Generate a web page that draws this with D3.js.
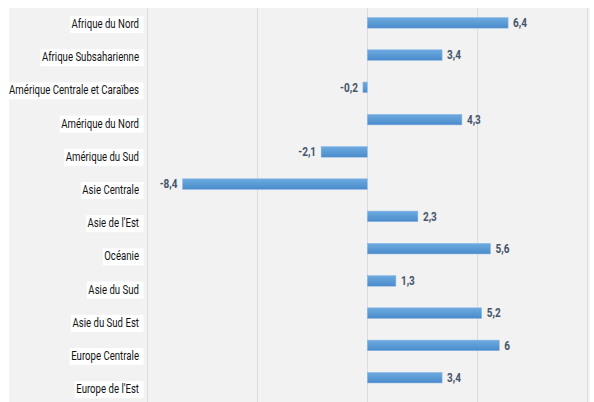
<!DOCTYPE html>
<html>
<head>
<meta charset="utf-8">
<script src="https://cdn.jsdelivr.net/npm/d3@7"></script>
<style>
  html, body { margin: 0; padding: 0; background: #ffffff; }
  svg { display: block; }
</style>
</head>
<body>
<svg id="chart" width="594" height="402"></svg>
<script>
// Régions du monde
const regions = [
  "Afrique du Nord",
  "Afrique Subsaharienne",
  "Amérique Centrale et Caraïbes",
  "Amérique du Nord",
  "Amérique du Sud",
  "Asie Centrale",
  "Asie de l'Est",
  "Océanie",
  "Asie du Sud",
  "Asie du Sud Est",
  "Europe Centrale",
  "Europe de l'Est"
];

// Variation par région
const values = [6.4, 3.4, -0.2, 4.3, -2.1, -8.4, 2.3, 5.6, 1.3, 5.2, 6, 3.4];

// Graduations verticales de la grille
const gridTicks = [-10, -5, 0, 5, 10];

const svg = d3.select("#chart");
const W = 594, H = 402;

// Fond gris du graphique
svg.append("rect")
  .attr("x", 9).attr("y", 8)
  .attr("width", 581).attr("height", H - 8)
  .attr("fill", "#f2f2f2");

const x = d3.scaleLinear().domain([-10, 10]).range([147.3, 587.3]);

const y = d3.scaleBand()
  .domain(regions)
  .range([6.7, 393.8])
  .paddingInner(0.67)
  .paddingOuter(0.335);

// Position verticale des libellés de catégories
const yLabel = d3.scalePoint()
  .domain(regions)
  .range([24.5, 389.7]);

const defs = svg.append("defs");
const grad = defs.append("linearGradient")
  .attr("id", "barGrad")
  .attr("x1", 0).attr("y1", 0).attr("x2", 0).attr("y2", 1);
grad.append("stop").attr("offset", "0%").attr("stop-color", "#6eaae0");
grad.append("stop").attr("offset", "50%").attr("stop-color", "#5b9bd5");
grad.append("stop").attr("offset", "100%").attr("stop-color", "#4a8acb");

// Grille
svg.append("g")
  .selectAll("line")
  .data(gridTicks)
  .join("line")
  .attr("x1", d => Math.round(x(d)) + 0.5)
  .attr("x2", d => Math.round(x(d)) + 0.5)
  .attr("y1", 8).attr("y2", H)
  .attr("stroke", "#dcdcdc")
  .attr("stroke-width", 1);

// Barres
svg.append("g")
  .selectAll("rect")
  .data(values)
  .join("rect")
  .attr("x", d => x(Math.min(0, d)))
  .attr("width", d => Math.abs(x(d) - x(0)))
  .attr("y", (d, i) => y(regions[i]))
  .attr("height", y.bandwidth())
  .attr("fill", "url(#barGrad)")
  .attr("stroke", "#8fbbe6")
  .attr("stroke-width", 0.5);

// Format décimal à la française, signe moins simple
const fr = d3.formatLocale({ decimal: ",", thousands: " ", grouping: [3], currency: ["", " €"], minus: "-" });
const fmt = v => (Number.isInteger(v) ? fr.format("d")(v) : fr.format(".1f")(v));

// Étiquettes de valeurs
const valueG = svg.append("g");
values.forEach((v, i) => {
  const cy = y(regions[i]) + y.bandwidth() / 2 + 1;
  const px = v >= 0 ? x(v) + 5 : x(v) - 5;
  const g = valueG.append("g").attr("transform", `translate(${px},${cy}) scale(0.8,1)`);
  g.append("text")
    .attr("text-anchor", v >= 0 ? "start" : "end")
    .attr("dominant-baseline", "middle")
    .attr("font-family", "Roboto, 'Liberation Sans', sans-serif")
    .attr("font-weight", "bold")
    .attr("font-size", 12.5)
    .attr("fill", "#44546a")
    .text(fmt(v));
});

// Libellés des catégories sur fond blanc
const labelG = svg.append("g");
const labelRight = 139;
const nodes = regions.map(r => {
  const g = labelG.append("g");
  const t = g.append("text")
    .attr("text-anchor", "end")
    .attr("dominant-baseline", "middle")
    .attr("font-family", "Roboto, 'Liberation Sans', sans-serif")
    .attr("font-size", 13.5)
    .attr("fill", "#111111")
    .text(r);
  return { r, g, t };
});
// Compression horizontale pour un rendu condensé
const longest = d3.max(nodes, n => n.t.node().getComputedTextLength());
const sx = Math.min(1, 130 / longest);
nodes.forEach(n => {
  const w = n.t.node().getComputedTextLength() * sx;
  const cy = yLabel(n.r);
  n.g.insert("rect", "text")
    .attr("x", labelRight - w - 1.5)
    .attr("y", cy - 8.5)
    .attr("width", w + 6)
    .attr("height", 17)
    .attr("fill", "#ffffff");
  n.t.attr("transform", `translate(${labelRight},${cy}) scale(${sx},1)`);
});
</script>
</body>
</html>
